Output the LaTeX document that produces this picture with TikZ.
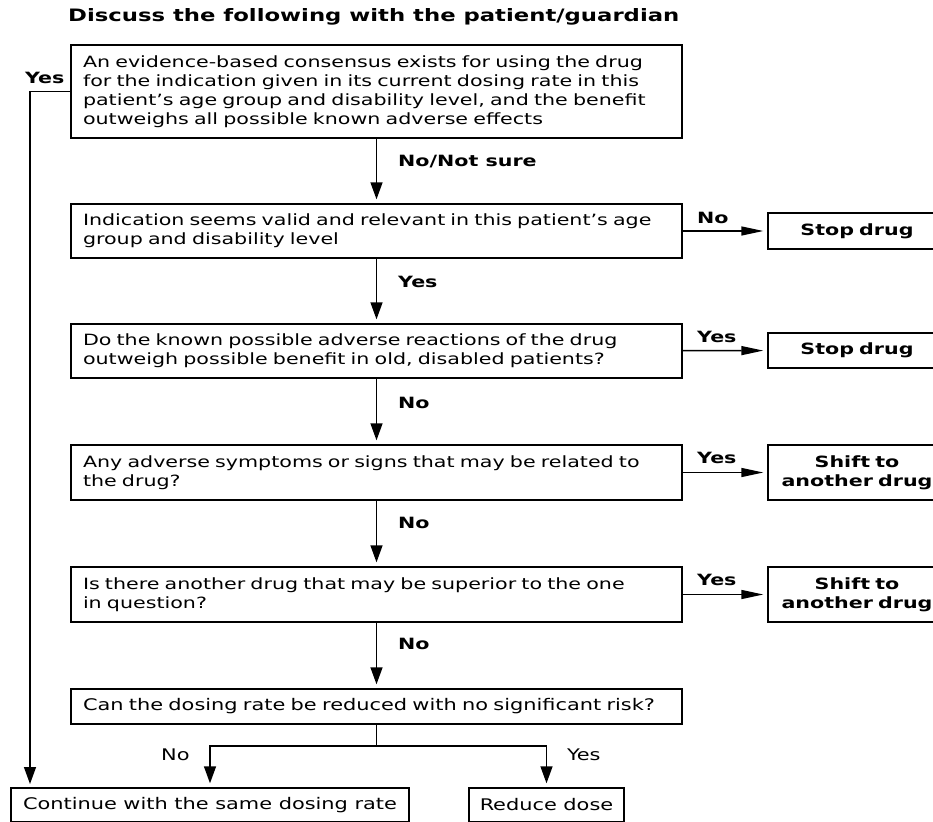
\documentclass[tikz,border=0pt]{standalone}
\usepackage{fontspec}
\setmainfont{DejaVu Sans}[FakeStretch=1.33]
\newfontfamily\condfont{DejaVu Sans Condensed}[FakeStretch=1.45]
\usetikzlibrary{arrows.meta}

\newcommand{\bodyfont}{\fontsize{15.5}{19}\selectfont}

\tikzset{
  qbox/.style={draw, line width=1.4pt, text width=587pt, align=left,
               inner xsep=12pt, inner ysep=0pt, font=\bodyfont},
  actbox/.style={draw, line width=1.4pt, text width=154pt, align=center,
                 inner xsep=12pt, inner ysep=0pt, font=\bodyfont\bfseries},
  endbox/.style={draw, line width=1.4pt, inner xsep=0pt, inner ysep=0pt,
                 font=\condfont\fontsize{16}{19}\selectfont},
  lbl/.style={anchor=west, inner sep=0pt, font=\bodyfont\bfseries},
  endlbl/.style={anchor=west, inner sep=0pt, font=\condfont\fontsize{16}{19}\selectfont},
  vline/.style={line width=1.4pt, -{Triangle[length=17pt,width=12pt]}, shorten >=4pt},
  hline/.style={line width=1.4pt, -{Triangle[length=22pt,width=9pt]}, shorten >=4pt},
}

\begin{document}
\begin{tikzpicture}[x=1pt, y=-1pt]
    \useasboundingbox (0,0) rectangle (933,821);

    \node[anchor=west, inner sep=0pt, font=\fontsize{17.1}{20}\selectfont\bfseries] (title) at (68,17)
        {Discuss the following with the patient/guardian};

    % questions
    \node[qbox, minimum height=93pt] (consensus) at (376.5,91.5)
        {An evidence-based consensus exists for using the drug\\
         for the indication given in its current dosing rate in this\\
         patient’s age group and disability level, and the benefit\\
         outweighs all possible known adverse effects};
    \node[qbox, minimum height=54pt] (indication) at (376.5,231)
        {Indication seems valid and relevant in this patient’s age\\
         group and disability level};
    \node[qbox, minimum height=54pt] (adverse) at (376.5,351)
        {Do the known possible adverse reactions of the drug\\
         outweigh possible benefit in old, disabled patients?};
    \node[qbox, minimum height=55pt] (symptoms) at (376.5,472.5)
        {Any adverse symptoms or signs that may be related to\\
         the drug?};
    \node[qbox, minimum height=55pt] (superior) at (376.5,594.5)
        {Is there another drug that may be superior to the one\\
         in question?};
    \node[qbox, minimum height=35pt, font=\condfont\fontsize{16}{19}\selectfont] (dosing) at (376.5,706.5)
        {Can the dosing rate be reduced with no significant risk?};

    % actions
    \node[actbox, minimum height=36pt] (stopA)  at (857,231)   {Stop drug};
    \node[actbox, minimum height=35pt] (stopB)  at (857,350.5) {Stop drug};
    \node[actbox, minimum height=55pt] (shiftA) at (857,472.5) {Shift to\\ another drug};
    \node[actbox, minimum height=55pt] (shiftB) at (857,594.5) {Shift to\\ another drug};

    \node[endbox, minimum width=398pt, minimum height=34pt] (continue) at (210,805)
        {Continue with the same dosing rate};
    \node[endbox, minimum width=155pt, minimum height=34pt] (reduce) at (546.5,805)
        {Reduce dose};

    % labels
    \node[lbl] (lyes)  at (25,78)   {Yes};
    \node[lbl] (lno1)  at (398,162) {No/Not sure};
    \node[lbl] (lyes1) at (398,282) {Yes};
    \node[lbl] (lno2)  at (398,403) {No};
    \node[lbl] (lno3)  at (398,523) {No};
    \node[lbl] (lno4)  at (398,644) {No};
    \node[lbl] (rno1)  at (697,218) {No};
    \node[lbl] (ryes1) at (697,337) {Yes};
    \node[lbl] (ryes2) at (697,458) {Yes};
    \node[lbl] (ryes3) at (697,580) {Yes};
    \node[endlbl] (bno)  at (161,755) {No};
    \node[endlbl] (byes) at (567,755) {Yes};

    % connectors
    \coordinate (skip) at (30,788);
    \coordinate (fork) at (376.5,746);
    \draw[vline] (consensus) -- (indication);
    \draw[vline] (indication) -- (adverse);
    \draw[vline] (adverse) -- (symptoms);
    \draw[vline] (symptoms) -- (superior);
    \draw[vline] (superior) -- (dosing);
    \draw[hline] (indication) -- (stopA);
    \draw[hline] (adverse) -- (stopB);
    \draw[hline] (symptoms) -- (shiftA);
    \draw[hline] (superior) -- (shiftB);
    \draw[vline] (consensus.west) -| (skip);
    \draw[line width=1.4pt] (dosing) -- (fork);
    \draw[vline] (fork) -| (continue);
    \draw[vline] (fork) -| (reduce);
\end{tikzpicture}
\end{document}
